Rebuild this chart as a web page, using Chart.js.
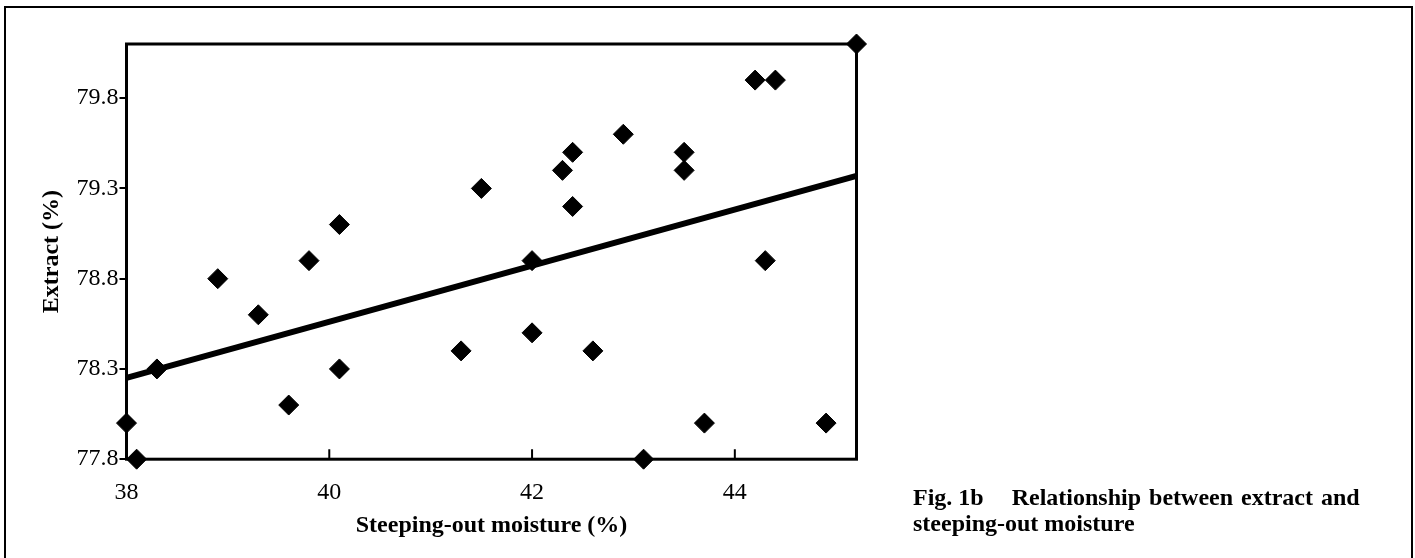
<!DOCTYPE html>
<html>
<head>
<meta charset="utf-8">
<script src="https://cdn.jsdelivr.net/npm/chart.js@4/dist/chart.umd.min.js"></script>
<style>
  html, body { margin: 0; padding: 0; background: #fff; }
  body { width: 1415px; height: 558px; position: relative; overflow: hidden; }
  #frame { position: absolute; left: 4px; top: 6px; width: 1409px; height: 600px; box-sizing: border-box;
           border: 2px solid #000; border-bottom: none; pointer-events: none; }
  #wrap { position: absolute; left: 0; top: 0; width: 1415px; height: 558px; }
  #caption { position: absolute; left: 913px; top: 483.6px; font-family: "Liberation Serif", "Times New Roman", serif;
             font-weight: bold; font-size: 24px; line-height: 26.7px; color: #000; white-space: nowrap; }
  #caption .l1 { word-spacing: 2px; }
  #caption .gap { display: inline-block; width: 28px; }
</style>
</head>
<body>
<div id="wrap"><canvas id="c" width="1415" height="558"></canvas></div>
<div id="frame"></div>
<div id="caption"><span>Fig. 1b</span><span class="gap"></span><span class="l1">Relationship between extract and</span><br>steeping-out moisture</div>
<script>
// Data
const moisture = [38.0, 38.1, 38.3, 38.9, 39.3, 39.6, 39.8, 40.1, 40.1, 41.3, 41.5, 42.0, 42.0, 42.3, 42.4, 42.4, 42.6, 42.9, 43.1, 43.5, 43.5, 43.7, 44.2, 44.4, 44.3, 44.9, 45.2];
const extract  = [78.0, 77.8, 78.3, 78.8, 78.6, 78.1, 78.9, 79.1, 78.3, 78.4, 79.3, 78.9, 78.5, 79.4, 79.5, 79.2, 78.4, 79.6, 77.8, 79.5, 79.4, 78.0, 79.9, 79.9, 78.9, 78.0, 80.1];
// Regression line end points
const trendX = [38.0, 45.2];
const trendY = [78.25, 79.37];
// Axis ticks
const xTicks = [38, 40, 42, 44];
const xTickLabels = ['38', '40', '42', '44'];
const yTicks = [77.8, 78.3, 78.8, 79.3, 79.8];
const yTickLabels = ['77.8', '78.3', '78.8', '79.3', '79.8'];
const xRange = [38, 45.2];
const yRange = [77.8, 80.1];

const serif = '"Liberation Serif", "Times New Roman", serif';

const framePlugin = {
  id: 'frame',
  afterDatasetsDraw(chart) {
    const {ctx, chartArea: a, scales: {x}} = chart;
    ctx.save();
    ctx.strokeStyle = '#000';
    // inward x tick marks
    ctx.lineWidth = 2;
    ctx.beginPath();
    x.ticks.forEach(t => {
      const px = x.getPixelForValue(t.value);
      ctx.moveTo(px, a.bottom);
      ctx.lineTo(px, a.bottom - 10);
    });
    ctx.stroke();
    // plot box
    ctx.lineWidth = 3;
    ctx.strokeRect(a.left, a.top, a.right - a.left, a.bottom - a.top);
    ctx.restore();
  }
};

new Chart(document.getElementById('c'), {
  type: 'scatter',
  data: {
    datasets: [
      {
        data: moisture.map((v, i) => ({x: v, y: extract[i]})),
        pointStyle: 'rectRot',
        pointRadius: 10,
        pointHoverRadius: 10,
        backgroundColor: '#000',
        borderColor: '#000',
        borderWidth: 1,
        clip: false
      },
      {
        type: 'line',
        data: trendX.map((v, i) => ({x: v, y: trendY[i]})),
        borderColor: '#000',
        borderWidth: 6,
        pointRadius: 0,
        fill: false,
        borderCapStyle: 'butt',
        clip: false
      }
    ]
  },
  options: {
    responsive: false,
    devicePixelRatio: 1,
    animation: false,
    layout: { padding: { left: 0, top: 44, right: 558.5, bottom: 0 } },
    plugins: { legend: { display: false }, tooltip: { enabled: false } },
    scales: {
      x: {
        type: 'linear',
        min: xRange[0], max: xRange[1],
        afterBuildTicks: s => { s.ticks = xTicks.map(v => ({value: v})); },
        afterFit: s => { s.height = 98.8; },
        grid: { display: false, drawTicks: false, tickLength: 0 },
        border: { display: false },
        ticks: {
          autoSkip: false, maxRotation: 0, padding: 19, color: '#000',
          font: { family: serif, size: 24, lineHeight: 1.2 },
          callback: (v, i) => xTickLabels[i]
        },
        title: {
          display: true, text: 'Steeping-out moisture (%)', color: '#000',
          font: { family: serif, size: 24, weight: 'bold', lineHeight: 1.2 },
          padding: { top: 0, bottom: 17.6 }
        }
      },
      y: {
        type: 'linear',
        min: yRange[0], max: yRange[1],
        afterBuildTicks: s => { s.ticks = yTicks.map(v => ({value: v})); },
        afterFit: s => { s.width = 126.5; },
        grid: { display: true, drawOnChartArea: false, drawTicks: true, tickLength: 7, lineWidth: 2, color: '#000' },
        border: { display: false },
        ticks: {
          autoSkip: false, padding: 1, color: '#000',
          font: { family: serif, size: 24, lineHeight: 1.2 },
          callback: (v, i) => yTickLabels[i]
        },
        title: {
          display: true, text: 'Extract (%)', color: '#000',
          font: { family: serif, size: 24, weight: 'bold', lineHeight: 1.2 },
          padding: { top: 37.6, bottom: 0 }
        }
      }
    }
  },
  plugins: [framePlugin]
});
</script>
</body>
</html>
